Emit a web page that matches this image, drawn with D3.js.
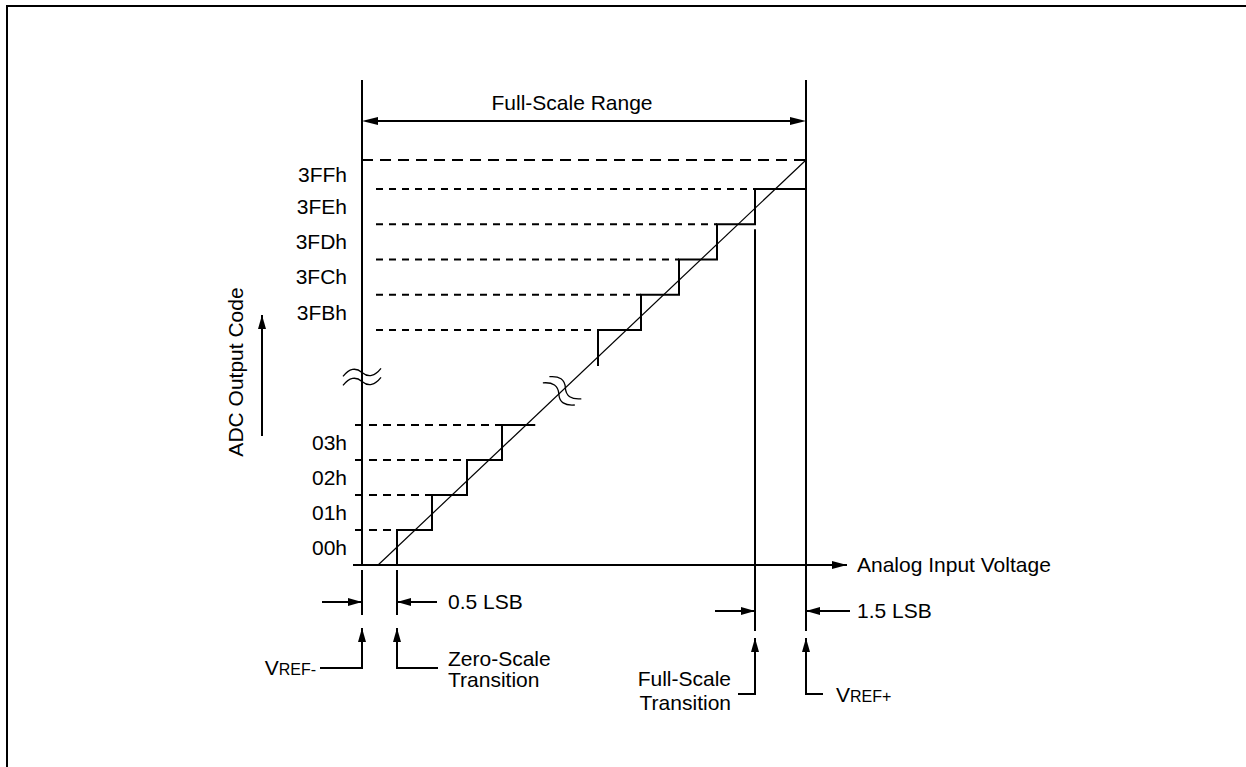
<!DOCTYPE html>
<html><head><meta charset="utf-8">
<script src="https://cdn.jsdelivr.net/npm/d3@7"></script>
<style>
body{margin:0;background:#fff}
svg{display:block}
text{font-family:'Liberation Sans',Arial,Helvetica,sans-serif;fill:#000;font-size:21px}
</style>
</head><body><script>
// ---------- data (codes in LSB / code units) ----------
const lowerCodes = [0, 1, 2, 3];
const lowerCodeLabels = ["00h", "01h", "02h", "03h"];
const upperCodes = [1019, 1020, 1021, 1022, 1023];
const upperCodeLabels = ["3FBh", "3FCh", "3FDh", "3FEh", "3FFh"];
const lowerTransitions = [0.5, 1.5, 2.5, 3.5];
const lowerStepEnd = 4.45;
const upperTransitions = [1018.5, 1019.5, 1020.5, 1021.5, 1022.5];
const upperStubLevel = 1018;
const fullScaleLevel = 1024;
const idealLine = [[0.23, 0], [1024, 1024]];
const yBreakCode = 830;
const diagBreakFrac = 0.43;
const vrefMinus = 0, zeroScaleTransition = 0.5, fullScaleTransition = 1022.5, vrefPlus = 1024;
const lowerDashStart = -0.1, upperDashStart = 0.2;

// ---------- scales (broken / polylinear) ----------
const x = d3.scaleLinear().domain([0, 0.5, 4.5, 1018.5, 1019.5, 1022.5, 1024]).range([362, 397, 537, 598, 641, 755, 806]);
const y = d3.scaleLinear().domain([0, 4, 1018, 1019, 1023, 1024]).range([565, 425, 366, 330, 189, 160]);

const W = 1246, H = 767;
const svg = d3.select("body").append("svg").attr("width", W).attr("height", H);

// frame
svg.append("rect").attr("x", 7).attr("y", 6).attr("width", W).attr("height", H)
  .attr("fill", "none").attr("stroke", "#000").attr("stroke-width", 2);

const g = svg.append("g");
const line = d3.line().x(d => x(d[0])).y(d => y(d[1]));

function seg(x1, y1, x2, y2, w = 2) {
  g.append("line").attr("x1", x1).attr("y1", y1).attr("x2", x2).attr("y2", y2)
    .attr("stroke", "#000").attr("stroke-width", w);
}
function head(tx, ty, dx, dy, len = 14, wid = 8) {
  const px = -dy, py = dx;
  const bx = tx - dx * len, by = ty - dy * len;
  g.append("path").attr("d", `M${tx},${ty}L${bx + px * wid / 2},${by + py * wid / 2}L${bx - px * wid / 2},${by - py * wid / 2}Z`)
    .attr("fill", "#000");
}
function arrow(pts, len = 14, wid = 8) {
  g.append("path").attr("d", d3.line()(pts)).attr("fill", "none").attr("stroke", "#000").attr("stroke-width", 2);
  const a = pts[pts.length - 2], b = pts[pts.length - 1];
  const L = Math.hypot(b[0] - a[0], b[1] - a[1]);
  head(b[0], b[1], (b[0] - a[0]) / L, (b[1] - a[1]) / L, len, wid);
}
function txt(s, tx, ty, anchor = "start") {
  return g.append("text").attr("x", tx).attr("y", ty).attr("text-anchor", anchor).text(s);
}

// ---------- dashed grid lines ----------
g.append("line").attr("x1", x(vrefMinus)).attr("x2", x(vrefPlus)).attr("y1", y(fullScaleLevel)).attr("y2", y(fullScaleLevel))
  .attr("stroke", "#000").attr("stroke-width", 2).attr("stroke-dasharray", "11,7");
upperCodes.forEach((c, i) => {
  g.append("line").attr("x1", x(upperDashStart)).attr("x2", x(upperTransitions[i]))
    .attr("y1", y(c)).attr("y2", y(c))
    .attr("stroke", "#000").attr("stroke-width", 1.8).attr("stroke-dasharray", "7,6");
});
lowerCodes.forEach((c, i) => {
  g.append("line").attr("x1", x(lowerDashStart)).attr("x2", x(lowerTransitions[i]))
    .attr("y1", y(c + 1)).attr("y2", y(c + 1))
    .attr("stroke", "#000").attr("stroke-width", 1.8).attr("stroke-dasharray", "8,6");
});

// ---------- staircases ----------
const lowerPts = [];
lowerTransitions.forEach((t, i) => {
  lowerPts.push([t, i], [t, i + 1]);
  lowerPts.push([i + 1 < lowerTransitions.length ? lowerTransitions[i + 1] : lowerStepEnd, i + 1]);
});
g.append("path").attr("d", line(lowerPts)).attr("fill", "none").attr("stroke", "#000").attr("stroke-width", 2);

const upperPts = [];
upperTransitions.forEach((t, i) => {
  const lv = i === 0 ? upperStubLevel : upperCodes[i - 1];
  upperPts.push([t, lv], [t, upperCodes[i]]);
  upperPts.push([i + 1 < upperTransitions.length ? upperTransitions[i + 1] : vrefPlus, upperCodes[i]]);
});
g.append("path").attr("d", line(upperPts)).attr("fill", "none").attr("stroke", "#000").attr("stroke-width", 2);

// ---------- ideal transfer line ----------
g.append("path").attr("d", line(idealLine)).attr("fill", "none").attr("stroke", "#000").attr("stroke-width", 1.2);

// ---------- axes ----------
const x0 = x(vrefMinus), xz = x(zeroScaleTransition), xf = x(fullScaleTransition), xr = x(vrefPlus), y0 = y(0);
seg(x0, 80, x0, y0);
seg(xr, 80, xr, 631);
seg(xf, y(1022) + 5, xf, 631);
seg(x0, y0 + 5, x0, 615);
seg(xz, y0 + 5, xz, 615);
arrow([[x0 - 9, y0], [xr + 41, y0]], 15, 8);

// break symbols
function tilde(cx, cy, angle) {
  const p = "M-19,4 Q-9.5,-8 0,0 T19,-4";
  g.append("path").attr("d", p).attr("transform", `translate(${cx},${cy}) rotate(${angle})`)
    .attr("fill", "none").attr("stroke", "#000").attr("stroke-width", 1.3);
}
const yb = y(yBreakCode);
tilde(x0, yb - 4.5, 0);
tilde(x0, yb + 4.5, 0);
const p0 = [x(idealLine[0][0]), y(idealLine[0][1])], p1 = [x(idealLine[1][0]), y(idealLine[1][1])];
const bx = p0[0] + (p1[0] - p0[0]) * diagBreakFrac, by = p0[1] + (p1[1] - p0[1]) * diagBreakFrac;
const ddx = p1[0] - p0[0], ddy = p1[1] - p0[1], dl = Math.hypot(ddx, ddy);
const ang = Math.atan2(ddx, -ddy) * 180 / Math.PI;
[-4.5, 4.5].forEach(o => tilde(bx + ddx / dl * o, by + ddy / dl * o, ang));

// ---------- code labels ----------
lowerCodes.forEach((c, i) => txt(lowerCodeLabels[i], 347, y(c + 0.5), "end").attr("dy", "0.35em"));
upperCodes.forEach((c, i) => txt(upperCodeLabels[i], 347, y(c + 0.5), "end").attr("dy", "0.35em"));

// y title + arrow
g.append("text").attr("transform", "translate(236,372) rotate(-90)").attr("text-anchor", "middle")
  .attr("dy", "0.35em").text("ADC Output Code");
arrow([[262, 436], [262, 315]], 14, 8);

// ---------- full-scale range ----------
const yfs = 121;
g.append("line").attr("x1", x0 + 10).attr("x2", xr - 10).attr("y1", yfs).attr("y2", yfs).attr("stroke", "#000").attr("stroke-width", 2);
head(x0, yfs, -1, 0, 16, 8);
head(xr, yfs, 1, 0, 16, 8);
txt("Full-Scale Range", 572, 110, "middle");

txt("Analog Input Voltage", 857, y0 + 7);

// ---------- bottom annotations ----------
arrow([[322, 602], [x0, 602]]);
arrow([[437, 602], [xz, 602]]);
txt("0.5 LSB", 448, 609);
arrow([[320, 668], [x0, 668], [x0, 628]]);
arrow([[438, 668], [xz, 668], [xz, 628]]);
const vm = txt("", 316, 675, "end");
vm.append("tspan").text("V");
vm.append("tspan").attr("font-size", "16px").text("REF-");
txt("Zero-Scale", 448, 666);
txt("Transition", 448, 687);

arrow([[715, 611], [xf, 611]]);
arrow([[850, 611], [xr, 611]]);
txt("1.5 LSB", 857, 618);
arrow([[738, 694], [xf, 694], [xf, 638]]);
arrow([[823, 694], [xr, 694], [xr, 638]]);
txt("Full-Scale", 731, 686, "end");
txt("Transition", 731, 710, "end");
const vp = txt("", 836, 702);
vp.append("tspan").text("V");
vp.append("tspan").attr("font-size", "16px").text("REF+");
</script></body></html>
